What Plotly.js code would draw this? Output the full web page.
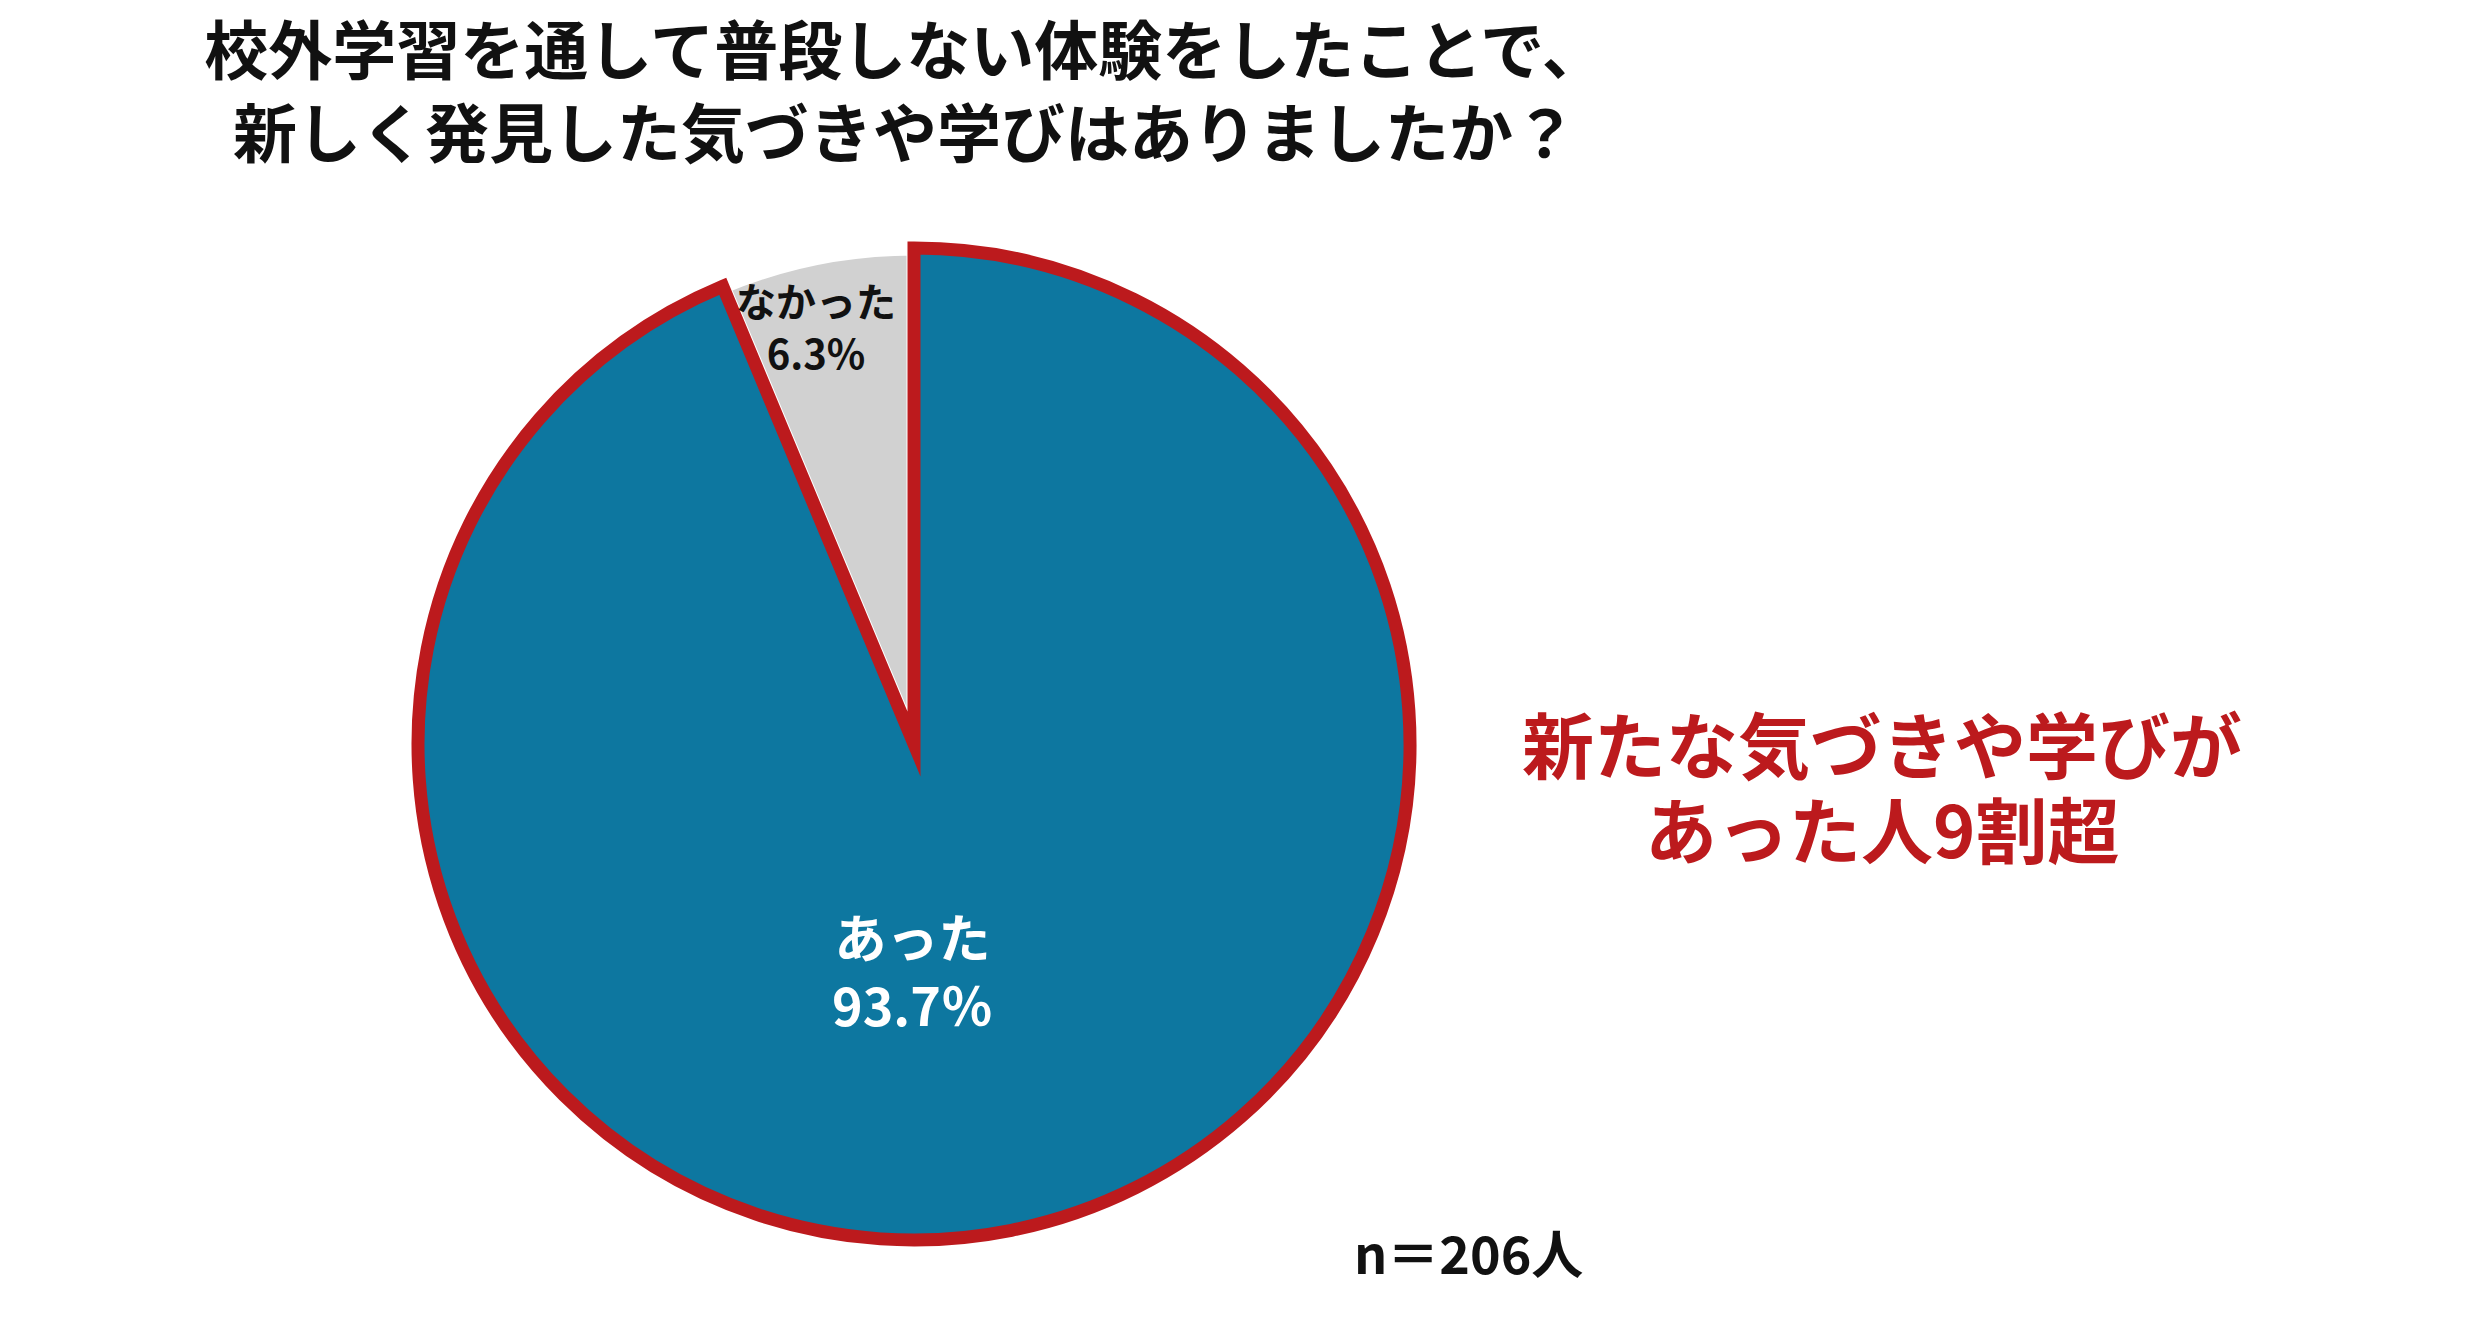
<!DOCTYPE html>
<html><head><meta charset="utf-8">
<script src="https://cdn.plot.ly/plotly-3.0.1.min.js"></script>
<style>
html,body{margin:0;padding:0;background:#fff;}
#chart{width:2482px;height:1317px;}
.pielayer path.surface{stroke-linejoin:miter !important;stroke-miterlimit:10 !important;}
</style>
</head><body><div id="chart"></div>
<script>
const titleLines = ['校外学習を通して普段しない体験をしたことで、', '新しく発見した気づきや学びはありましたか？'];
const labels = ['なかった', 'あった'];
const values = [6.3, 93.7];
const pctSuffix = ['%', '％'];
const sliceColors = ['#D1D1D1', '#0D77A0'];
const calloutLines = ['新たな気づきや学びが', 'あった人9割超'];
const sampleNote = 'n＝206人';

const W = 2482, H = 1317;
const cx = 914, cy = 744, r = 496;
const FONT = '"Noto Sans CJK JP", "Noto Sans", sans-serif';
const total = values.reduce((a, b) => a + b, 0);

const trace = {
  type: 'pie',
  labels: labels,
  values: values,
  sort: false,
  direction: 'counterclockwise',
  rotation: -360 * values[0] / total,
  textinfo: 'none',
  hoverinfo: 'skip',
  showlegend: false,
  marker: {
    colors: sliceColors,
    line: { color: ['#FFFFFF', '#BC1A1D'], width: [15, 13] }
  },
  domain: { x: [(cx - r) / W, (cx + r) / W], y: [1 - (cy + r) / H, 1 - (cy - r) / H] }
};

const labelPos = [{ x: 816, y: 326, size: 40, color: '#111111' }, { x: 912, y: 969, size: 52, color: '#FFFFFF' }];
const annotations = labels.map((lab, i) => ({
  text: '<b>' + lab + '<br>' + values[i].toFixed(1) + pctSuffix[i] + '</b>',
  x: labelPos[i].x / W, y: 1 - labelPos[i].y / H, xref: 'paper', yref: 'paper',
  xanchor: 'center', yanchor: 'middle', showarrow: false, align: 'center',
  font: { family: FONT, size: labelPos[i].size, color: labelPos[i].color }
}));
const calloutY = [741, 826];
calloutLines.forEach((t, i) => annotations.push({
  text: '<b>' + t + '</b>', x: 1882 / W, y: 1 - calloutY[i] / H, xref: 'paper', yref: 'paper',
  xanchor: 'center', yanchor: 'middle', showarrow: false,
  font: { family: FONT, size: 72, color: '#BC1A1D' }
}));
annotations.push({
  text: '<b>' + sampleNote + '</b>', x: 1468 / W, y: 1 - 1251 / H, xref: 'paper', yref: 'paper',
  xanchor: 'center', yanchor: 'middle', showarrow: false,
  font: { family: FONT, size: 52, color: '#111111' }
});

const layout = {
  width: W, height: H,
  margin: { l: 0, r: 0, t: 0, b: 0 },
  paper_bgcolor: '#FFFFFF', plot_bgcolor: '#FFFFFF',
  title: {
    text: '<b>' + titleLines.join('<br>') + '</b>',
    x: 905 / W, xanchor: 'center', xref: 'paper',
    y: 1 - 74 / H, yanchor: 'top', yref: 'container',
    font: { family: FONT, size: 64, color: '#111111' }
  },
  annotations: annotations
};

Plotly.newPlot('chart', [trace], layout, { displayModeBar: false, staticPlot: true });
</script></body></html>
